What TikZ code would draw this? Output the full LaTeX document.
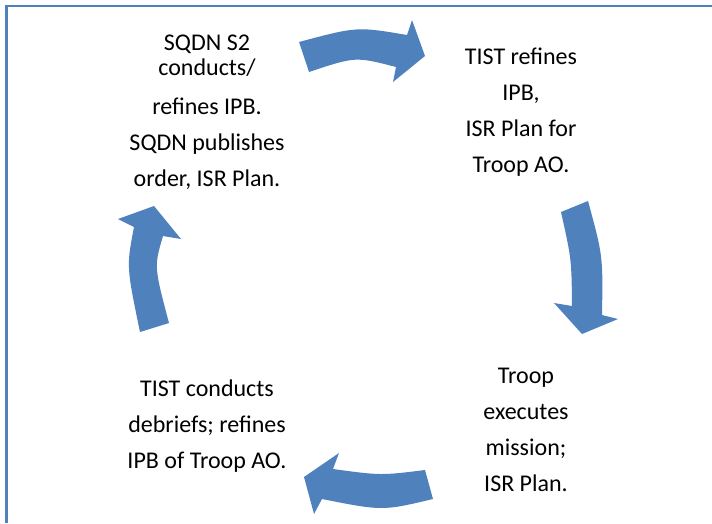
\documentclass[tikz,border=0pt]{standalone}
\usepackage{fontspec}
\setmainfont{Carlito}
\definecolor{accent}{HTML}{4F81BD}
\begin{document}
\begin{tikzpicture}[x=1pt,y=-1pt,
  lbl/.style={align=center,inner sep=0pt,font=\fontsize{24}{36}\selectfont,text=black},
  blockarrow/.style={fill=accent,draw=none},
  frameline/.style={draw=accent,line width=2.2pt}]
\useasboundingbox (0,0) rectangle (712,523);
% frame (top and left edges visible)
\draw[frameline] (6.5,523) -- (6.5,6) -- (712,6);
% text blocks
\node[lbl] (s2) at (207,112) {SQDN S2\\[-11pt]conducts/\\[3pt]refines IPB.\\SQDN publishes\\order, ISR Plan.};
\node[lbl] (tist) at (521,112) {TIST refines\\IPB,\\ISR Plan for\\Troop AO.};
\node[lbl] (troop) at (526,430) {Troop\\executes\\mission;\\ISR Plan.};
\node[lbl] (debrief) at (207,426) {TIST conducts\\debriefs; refines\\IPB of Troop AO.};
% top arrow (left to right)
\fill[blockarrow] (299,42) .. controls (357,26.5) .. (407,35) -- (412,20) -- (425,56)
  -- (393,82) -- (396,67) .. controls (355.5,56.5) .. (309,72) -- cycle;
% right arrow (downwards)
\fill[blockarrow] (588,201) .. controls (603,256) .. (602,315) -- (618,319) -- (582,334)
  -- (554,303) -- (572,306) .. controls (571.5,259) .. (561,212) -- cycle;
% bottom arrow (right to left)
\fill[blockarrow] (433,499) .. controls (382.5,511) .. (322,499) -- (314,514) -- (304,477)
  -- (339,453) -- (333,469) .. controls (381,475.5) .. (425,470) -- cycle;
% left arrow (upwards)
\fill[blockarrow] (140,332) .. controls (126.4,266.5) .. (134,227) -- (118,219) -- (154,206)
  -- (181,239) -- (163,236) .. controls (154,266.5) .. (169,323) -- cycle;
\end{tikzpicture}
\end{document}
